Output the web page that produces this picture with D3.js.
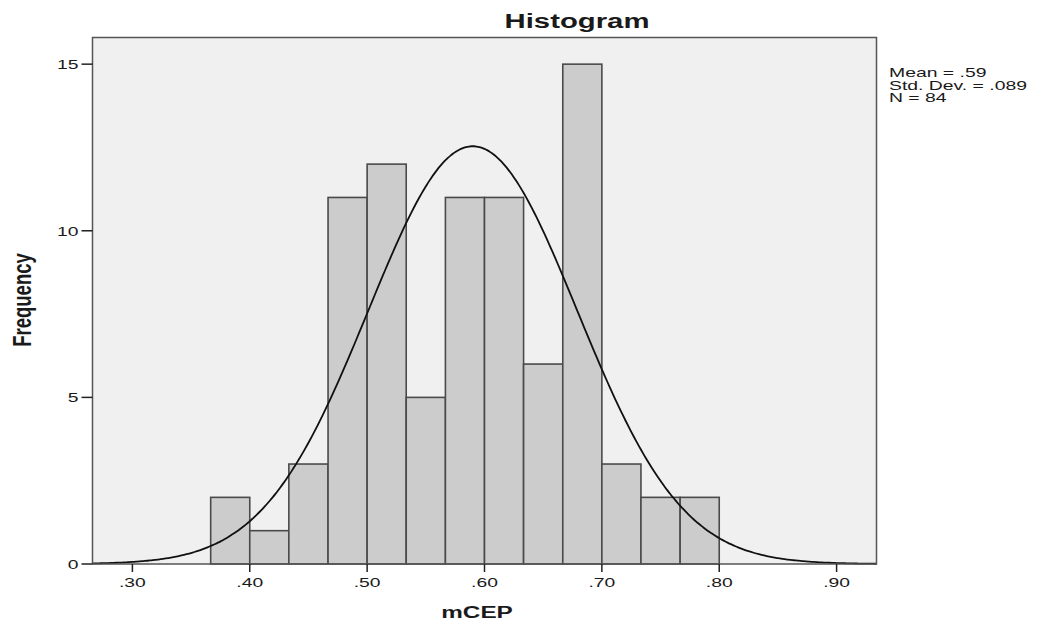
<!DOCTYPE html>
<html>
<head>
<meta charset="utf-8">
<script src="https://cdn.jsdelivr.net/npm/d3@7"></script>
<style>
  body { margin: 0; background: #fff; }
  text { font-family: "Liberation Sans", Arial, sans-serif; fill: #1a1a1a; }
</style>
</head>
<body>
<div id="chart"></div>
<script>
// histogram data (bin edges and counts)
const binEdges = [0.3667, 0.4, 0.4333, 0.4667, 0.5, 0.5333, 0.5667, 0.6, 0.6333, 0.6667, 0.7, 0.7333, 0.7667, 0.8];
const counts = [2, 1, 3, 11, 12, 5, 11, 11, 6, 15, 3, 2, 2];
const xTicks = [0.3, 0.4, 0.5, 0.6, 0.7, 0.8, 0.9];
const yTicks = [0, 5, 10, 15];
const statLines = ["Mean = .59", "Std. Dev. = .089", "N = 84"];
const mean = 0.59, sd = 0.089, n = 84;

const width = 1042, height = 622;
const frame = { left: 92.5, right: 876.5, top: 37.5, bottom: 564 };
const stretch = 1.43; // the original picture is stretched horizontally

const svg = d3.select("#chart").append("svg")
    .attr("width", width)
    .attr("height", height);

const x = d3.scaleLinear().domain([0.266, 0.934]).range([frame.left, frame.right]);
const y = d3.scaleLinear().domain([0, 15.8]).range([frame.bottom, frame.top]);

// plot background
svg.append("rect")
    .attr("x", frame.left).attr("y", frame.top)
    .attr("width", frame.right - frame.left)
    .attr("height", frame.bottom - frame.top)
    .attr("fill", "#f0f0f0");

// bars
const bins = counts.map((c, i) => ({ x0: binEdges[i], x1: binEdges[i + 1], count: c }));
svg.append("g").selectAll("rect")
    .data(bins)
    .enter().append("rect")
    .attr("x", d => x(d.x0))
    .attr("y", d => y(d.count))
    .attr("width", d => x(d.x1) - x(d.x0))
    .attr("height", d => y(0) - y(d.count))
    .attr("fill", "#cccccc")
    .attr("stroke", "#4a4a4a")
    .attr("stroke-width", 1.6);

// normal curve from the stated mean / sd / N
const binW = binEdges[1] - binEdges[0];
const normal = v => n * binW * Math.exp(-0.5 * ((v - mean) / sd) ** 2) / (sd * Math.sqrt(2 * Math.PI));
const curvePts = d3.range(0, 301).map(i => {
    const v = x.domain()[0] + (x.domain()[1] - x.domain()[0]) * i / 300;
    return [v, normal(v)];
});
svg.append("path")
    .datum(curvePts)
    .attr("fill", "none")
    .attr("stroke", "#111")
    .attr("stroke-width", 1.8)
    .attr("d", d3.line().x(d => x(d[0])).y(d => y(d[1])).curve(d3.curveBasis));

// frame
svg.append("rect")
    .attr("x", frame.left).attr("y", frame.top)
    .attr("width", frame.right - frame.left)
    .attr("height", frame.bottom - frame.top)
    .attr("fill", "none")
    .attr("stroke", "#555")
    .attr("stroke-width", 1.5);

// helper for stretched text
function addText(tx, ty, str, size, anchor, weight, rot, sx) {
    return svg.append("text")
        .attr("transform", `translate(${tx},${ty}) scale(${sx || stretch},1)` + (rot ? ` rotate(${rot})` : ""))
        .attr("text-anchor", anchor)
        .attr("font-size", size)
        .attr("font-weight", weight || "normal")
        .text(str);
}

// x axis ticks
const fmt = v => d3.format(".2f")(v).replace(/^0/, "");
svg.append("g").selectAll("line")
    .data(xTicks)
    .enter().append("line")
    .attr("x1", d => x(d)).attr("x2", d => x(d))
    .attr("y1", frame.bottom).attr("y2", frame.bottom + 8)
    .attr("stroke", "#222").attr("stroke-width", 1.5);
xTicks.forEach(t => addText(x(t), 587, fmt(t), 13.5, "middle"));

// y axis ticks
svg.append("g").selectAll("line")
    .data(yTicks)
    .enter().append("line")
    .attr("x1", frame.left - 11).attr("x2", frame.left)
    .attr("y1", d => y(d)).attr("y2", d => y(d))
    .attr("stroke", "#222").attr("stroke-width", 1.5);
yTicks.forEach(t => addText(frame.left - 14, y(t) + 5, t, 13.5, "end"));

// titles
addText(577, 28, "Histogram", 20.5, "middle", "bold");
addText(477, 618, "mCEP", 17, "middle", "bold");
addText(31, 300, "Frequency", 18.5, "middle", "bold", -90);

// stats legend
statLines.forEach((s, i) => addText(889, 77 + i * 12.5, s, 12.5, "start", null, null, 1.55));
</script>
</body>
</html>
